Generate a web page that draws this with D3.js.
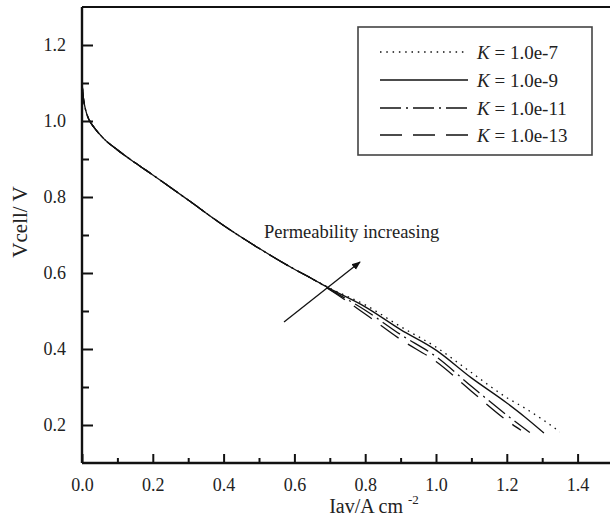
<!DOCTYPE html>
<html>
<head>
<meta charset="utf-8">
<script src="https://cdn.jsdelivr.net/npm/d3@7"></script>
<style>
  html, body { margin: 0; padding: 0; background: #fff; }
  svg { display: block; }
  text { font-family: "Liberation Serif", "Times New Roman", serif; fill: #222; }
</style>
</head>
<body>
<svg id="chart" width="610" height="523"></svg>
<script>
// ---- data ----
const seriesLabels = ["1.0e-7", "1.0e-9", "1.0e-11", "1.0e-13"];
const sharedI = [0, 0.004, 0.01, 0.02, 0.035, 0.06, 0.1, 0.15, 0.2, 0.3, 0.4, 0.5, 0.6, 0.65];
const sharedV = [1.10, 1.06, 1.03, 1.003, 0.982, 0.955, 0.924, 0.89, 0.858, 0.792, 0.725, 0.665, 0.61, 0.585];
const tailI_K7  = [0.7, 0.8, 0.9, 1.0, 1.1, 1.2, 1.25, 1.3, 1.35];
const tailV_K7  = [0.560, 0.516, 0.459, 0.405, 0.338, 0.272, 0.245, 0.215, 0.182];
const tailI_K9  = [0.7, 0.8, 0.9, 1.0, 1.1, 1.2, 1.25, 1.305];
const tailV_K9  = [0.559, 0.511, 0.451, 0.397, 0.324, 0.258, 0.222, 0.179];
const tailI_K11 = [0.7, 0.8, 0.9, 1.0, 1.1, 1.2, 1.265];
const tailV_K11 = [0.557, 0.502, 0.438, 0.380, 0.302, 0.226, 0.180];
const tailI_K13 = [0.7, 0.8, 0.9, 1.0, 1.1, 1.2, 1.24];
const tailV_K13 = [0.556, 0.492, 0.425, 0.367, 0.289, 0.212, 0.186];
const xMajorTicks = [0.0, 0.2, 0.4, 0.6, 0.8, 1.0, 1.2, 1.4];
const xMinorTicks = [0.1, 0.3, 0.5, 0.7, 0.9, 1.1, 1.3];
const yMajorTicks = [0.2, 0.4, 0.6, 0.8, 1.0, 1.2];
const yMinorTicks = [0.3, 0.5, 0.7, 0.9, 1.1];

(function () {
// ---- build series ----
function build(ti, tv) {
  const pts = sharedI.map((v, k) => [v, sharedV[k]]);
  ti.forEach((v, k) => pts.push([v, tv[k]]));
  return pts;
}
const series = [
  { label: seriesLabels[0], pts: build(tailI_K7, tailV_K7),   dash: "1.5,4.8" },
  { label: seriesLabels[1], pts: build(tailI_K9, tailV_K9),   dash: null },
  { label: seriesLabels[2], pts: build(tailI_K11, tailV_K11), dash: "21,5,2,5" },
  { label: seriesLabels[3], pts: build(tailI_K13, tailV_K13), dash: "22,11" }
];

const svg = d3.select("#chart");
const pL = 82, pR = 613, pT = 7, pB = 463;
const x = d3.scaleLinear().domain([0, 1.5]).range([pL, pR]);
const y = d3.scaleLinear().domain([0.1, 1.3]).range([pB, pT]);

// frame: top line
svg.append("line").attr("x1", pL).attr("x2", 610).attr("y1", pT).attr("y2", pT)
  .attr("stroke", "#111").attr("stroke-width", 2.2);

// x axis
const xAxis = svg.append("g").attr("transform", `translate(0,${pB})`);
xAxis.call(d3.axisBottom(x).tickValues(xMajorTicks).tickSize(-9).tickPadding(0).tickFormat(d3.format(".1f")));
const xMinor = svg.append("g").attr("transform", `translate(0,${pB})`);
xMinor.call(d3.axisBottom(x).tickValues(xMinorTicks).tickSize(-5).tickFormat(""));
// y axis
const yAxis = svg.append("g").attr("transform", `translate(${pL},0)`);
yAxis.call(d3.axisLeft(y).tickValues(yMajorTicks).tickSize(-11).tickPadding(0).tickFormat(d3.format(".1f")));
const yMinor = svg.append("g").attr("transform", `translate(${pL},0)`);
yMinor.call(d3.axisLeft(y).tickValues(yMinorTicks).tickSize(-7).tickFormat(""));

svg.selectAll(".domain").attr("stroke", "#111").attr("stroke-width", 2.4);
svg.selectAll(".tick line").attr("stroke", "#111").attr("stroke-width", 2);
xAxis.selectAll(".tick text").attr("font-size", 18).attr("y", 28).attr("dy", 0)
  .style("font-family", "Liberation Serif").attr("fill", "#222");
yAxis.selectAll(".tick text").attr("font-size", 18).attr("x", -16).attr("dy", "0.33em")
  .style("font-family", "Liberation Serif").attr("fill", "#222");
xAxis.select(".domain").attr("d", `M${pL},0H610`);
yAxis.select(".domain").attr("d", `M0,${pT}V${pB}`);
xMinor.select(".domain").remove();
yMinor.select(".domain").remove();

// curves
const line = d3.line().x(d => x(d[0])).y(d => y(d[1])).curve(d3.curveMonotoneX);
series.forEach(s => {
  svg.append("path").datum(s.pts).attr("d", line)
    .attr("fill", "none").attr("stroke", "#111").attr("stroke-width", 1.3)
    .attr("stroke-dasharray", s.dash);
});

// annotation
const defs = svg.append("defs");
defs.append("marker").attr("id", "arr").attr("viewBox", "0 0 10 10")
  .attr("refX", 9).attr("refY", 5).attr("markerWidth", 9).attr("markerHeight", 9)
  .attr("markerUnits", "userSpaceOnUse").attr("orient", "auto")
  .append("path").attr("d", "M0,1 L10,5 L0,9 Z").attr("fill", "#111");
svg.append("line").attr("x1", 284).attr("y1", 322).attr("x2", 360).attr("y2", 262)
  .attr("stroke", "#111").attr("stroke-width", 1.3).attr("marker-end", "url(#arr)");
svg.append("text").attr("x", 264).attr("y", 238).attr("font-size", 18.5)
  .text("Permeability increasing");

// legend
const lg = svg.append("g");
lg.append("rect").attr("x", 358).attr("y", 27).attr("width", 234).attr("height", 128)
  .attr("fill", "#fff").attr("stroke", "#444").attr("stroke-width", 1.6);
const rowY = [52, 80, 108, 135];
series.forEach((s, k) => {
  lg.append("line").attr("x1", 380).attr("x2", 468).attr("y1", rowY[k]).attr("y2", rowY[k])
    .attr("stroke", "#111").attr("stroke-width", 1.3).attr("stroke-dasharray", s.dash);
  const t = lg.append("text").attr("x", 477).attr("y", rowY[k] + 6.5).attr("font-size", 19);
  t.append("tspan").attr("font-style", "italic").text("K");
  t.append("tspan").text(" = " + s.label);
});

// axis titles
const xt = svg.append("text").attr("x", 374).attr("y", 513).attr("text-anchor", "middle").attr("font-size", 20);
xt.append("tspan").text("Iav/A cm ");
xt.append("tspan").attr("font-size", 13).attr("dy", -9).text("-2");
svg.append("text").attr("transform", "translate(27,222) rotate(-90)")
  .attr("text-anchor", "middle").attr("font-size", 21).text("Vcell/ V");
})();
</script>
</body>
</html>
